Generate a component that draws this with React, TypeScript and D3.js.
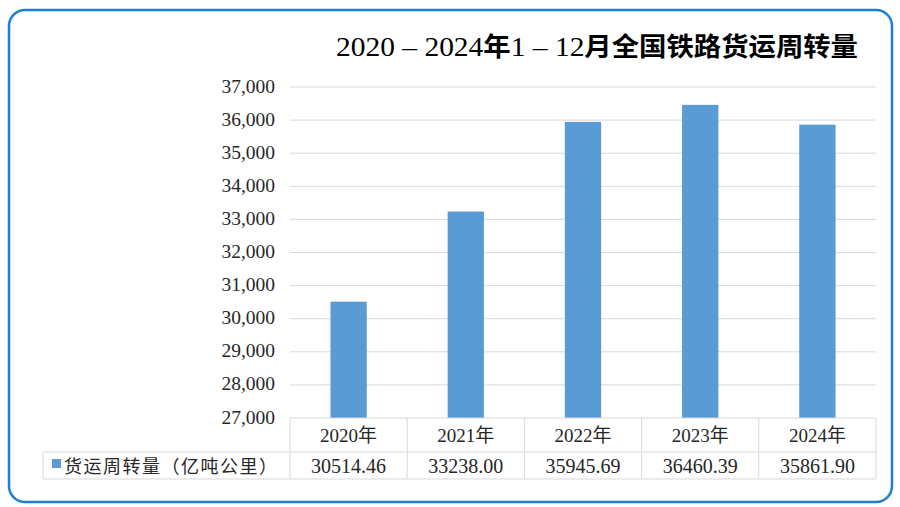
import React from "react";
import * as d3 from "d3";

const categories = ["2020年", "2021年", "2022年", "2023年", "2024年"];
const values = [30514.46, 33238.0, 35945.69, 36460.39, 35861.9];
const yTicks = [27000, 28000, 29000, 30000, 31000, 32000, 33000, 34000, 35000, 36000, 37000];
const seriesName = "货运周转量（亿吨公里）";
const titleParts = [
  { t: "2020 – 2024", cjk: false },
  { t: "年", cjk: true },
  { t: "1 – 12", cjk: false },
  { t: "月全国铁路货运周转量", cjk: true },
];

export default function App() {
  const W = 900, H = 507;
  const left = 290, right = 876, top = 87, bottom = 418;
  const row1 = 452, row2 = 479, tableLeft = 43;
  const x = d3.scaleBand().domain(categories).range([left, right]).paddingInner(0.69).paddingOuter(0.345);
  const xc = d3.scaleBand().domain(categories).range([left, right]);
  const y = d3.scaleLinear().domain([27000, 37000]).range([bottom, top]);
  const fmt = d3.format(",");
  const serif = "Liberation Serif, Times New Roman, DejaVu Serif, Noto Sans CJK SC, serif";
  const blue = "#5b9bd5";
  const grid = "#d9d9d9";
  const txt = "#262626";
  return (
    <svg width={W} height={H} style={{ position: "absolute", left: 0, top: 0, background: "#fff" }}>
      <rect x={9} y={10} width={883} height={492} rx={16} ry={16} fill="#fff" stroke="#1f7fd4" strokeWidth={2.5} />
      <text x={336} y={56} fontFamily={serif} fontSize={27} fill="#000"
        textLength={522} lengthAdjust="spacingAndGlyphs">
        {titleParts.map((p, i) => (
          <tspan key={i} fontWeight={p.cjk ? 700 : 400} fontSize={p.cjk ? 26 : 28}>{p.t}</tspan>
        ))}
      </text>
      {yTicks.map((t) => (
        <g key={t}>
          {t > 27000 && <line x1={left} x2={right} y1={y(t)} y2={y(t)} stroke={grid} strokeWidth={1} />}
          <text x={275} y={y(t) + 5.5} textAnchor="end" fontFamily={serif} fontSize={19.5} fill={txt}>{fmt(t)}</text>
        </g>
      ))}
      {categories.map((c, i) => (
        <rect key={c} x={x(c)} y={y(values[i])} width={x.bandwidth()} height={bottom - y(values[i])} fill={blue} />
      ))}
      <line x1={left} x2={right} y1={bottom} y2={bottom} stroke={grid} />
      <line x1={tableLeft} x2={right} y1={row1} y2={row1} stroke={grid} />
      <line x1={tableLeft} x2={right} y1={row2} y2={row2} stroke={grid} />
      <line x1={tableLeft} x2={tableLeft} y1={row1} y2={row2} stroke={grid} />
      {categories.map((c) => (
        <line key={"v" + c} x1={xc(c)} x2={xc(c)} y1={bottom} y2={row2} stroke={grid} />
      ))}
      <line x1={right} x2={right} y1={bottom} y2={row2} stroke={grid} />
      {categories.map((c, i) => (
        <g key={"t" + c}>
          <text x={xc(c)! + xc.bandwidth() / 2} y={442} textAnchor="middle" fontFamily={serif} fontSize={19} fill={txt}>{c}</text>
          <text x={xc(c)! + xc.bandwidth() / 2} y={473} textAnchor="middle" fontFamily={serif} fontSize={20} fill={txt}>{values[i].toFixed(2)}</text>
        </g>
      ))}
      <rect x={52} y={459} width={9} height={9} fill={blue} />
      <text x={64} y={473} fontFamily={serif} fontSize={18} fill={txt} textLength={213} lengthAdjust="spacing">{seriesName}</text>
    </svg>
  );
}
